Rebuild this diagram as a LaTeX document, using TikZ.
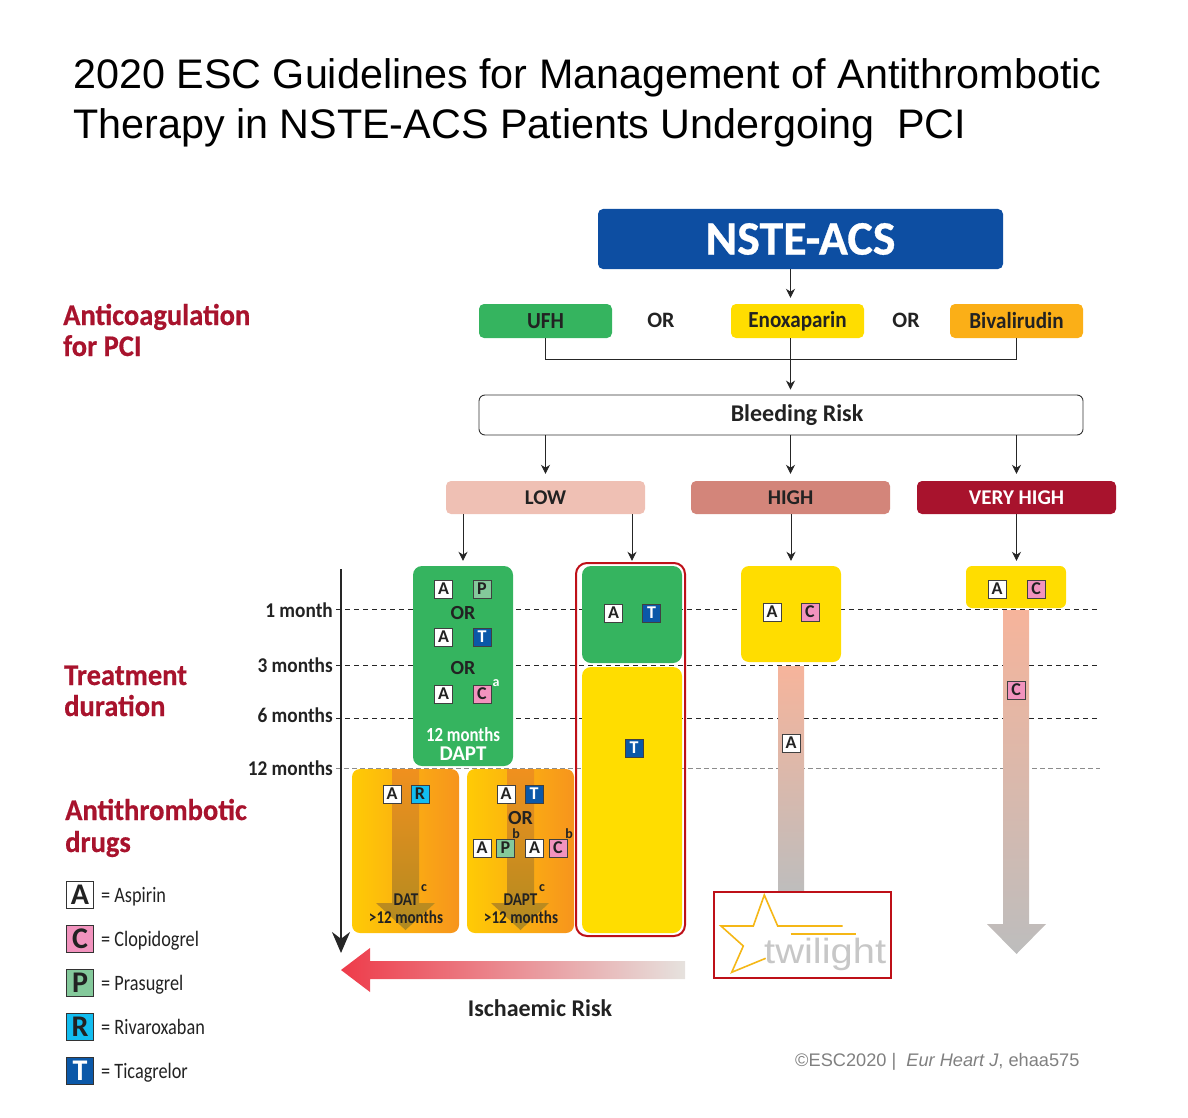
\documentclass[tikz,border=0pt]{standalone}
\usepackage{fontspec}
\setmainfont{Carlito}
\newfontfamily\arialf{Liberation Sans}
\newfontfamily\twf[FakeStretch=1.14]{Liberation Sans}
\newfontfamily\narA[FakeStretch=0.83]{Carlito}
\newfontfamily\narB[FakeStretch=0.92]{Carlito}
\newfontfamily\narC[FakeStretch=0.84]{Carlito}
\newfontfamily\headf[FakeStretch=0.95,FakeBold=0.5]{Carlito}
\newfontfamily\heavyf[FakeStretch=1.0,FakeBold=0.6]{Carlito}
\usetikzlibrary{arrows.meta}
\definecolor{escred}{HTML}{A8132D}
\definecolor{escframe}{HTML}{BE1018}
\definecolor{escblue}{HTML}{0D4EA2}
\definecolor{escgreen}{HTML}{35B45F}
\definecolor{escyellow}{HTML}{FFDD00}
\definecolor{escorange}{HTML}{FBAF17}
\definecolor{txt}{HTML}{222222}
\definecolor{drugp}{HTML}{84C99B}
\definecolor{drugc}{HTML}{F293BE}
\definecolor{drugr}{HTML}{12BDF0}
\definecolor{drugt}{HTML}{0B58A8}
\definecolor{HTMLlow}{HTML}{EFC0B4}
\definecolor{HTMLhigh}{HTML}{D3857A}
\definecolor{HTMLbar}{HTML}{F6B49B}
\definecolor{HTMLgrey}{HTML}{BDBDBD}
\definecolor{HTMLbrown}{HTML}{B08A20}
\definecolor{HTMLtop}{HTML}{F0901E}
\definecolor{HTMLredarrow}{HTML}{EE3B4A}
\definecolor{HTMLgreyl}{HTML}{E6E2DE}
\definecolor{HTMLstar}{HTML}{F5B716}
\definecolor{orL}{HTML}{FFCB05}
\definecolor{orR}{HTML}{F7941D}
\newcommand{\fs}[1]{\fontsize{#1}{#1}\selectfont}
\newcommand{\drug}[5]{\node[badge,#4] (#1) at (#2,#3) {#5};}
\newcommand{\legend}[5]{\node[bigbadge,#3] (#1) at (80,#2) {#4};
  \node[legtxt] (#1t) at (101,#2+7) {= #5};}
\tikzset{
  badge/.style={draw=black!75,line width=1pt,minimum size=18pt,inner sep=0pt,font=\bfseries\fs{18},text=txt},
  bigbadge/.style={draw=black!80,line width=1.1pt,minimum size=27pt,inner sep=0pt,font=\bfseries\fs{30},text=txt},
  da/.style={fill=white},
  dp/.style={fill=drugp},
  dc/.style={fill=drugc},
  dr/.style={fill=drugr},
  dt/.style={fill=drugt,text=white},
  legtxt/.style={anchor=base west,inner sep=0pt,font=\narA\fs{22},text=txt},
  head/.style={anchor=base west,inner sep=0pt,font=\headf\bfseries\fs{30},text=escred},
  month/.style={anchor=base east,inner sep=0pt,font=\narB\bfseries\fs{21},text=txt},
  lab/.style={inner sep=0pt,font=\bfseries\fs{22},text=txt},
  small/.style={inner sep=0pt,font=\bfseries\fs{20},text=txt},
  smallb/.style={inner sep=0pt,font=\narC\bfseries\fs{18},text=txt},
  tiny/.style={inner sep=0pt,font=\bfseries\fs{14},text=txt},
  ttl/.style={anchor=base west,inner sep=0pt,font=\arialf\fs{41.3},text=black},
  rbox/.style={rounded corners=5pt,inner sep=0pt,draw=none},
  arr/.style={-{Stealth[length=9pt,width=9pt]},line width=0.9pt,draw=black!85},
  conn/.style={line width=0.9pt,draw=black!85},
  dash1/.style={line width=0.8pt,draw=black!85,dash pattern=on 5pt off 4pt},
  dash2/.style={line width=1pt,draw=black!45,dash pattern=on 5pt off 3pt},
  orbox/.style={rbox,minimum width=107pt,minimum height=164pt,left color=orL,right color=orR},
  topbox/.style={rbox,minimum width=133pt,minimum height=34pt,font=\narB\bfseries\fs{23},text=txt},
}
\begin{document}
\begin{tikzpicture}[x=1pt,y=-1pt]
\useasboundingbox (0,0) rectangle (1188,1118);
% title
\node[ttl] (title1) at (73,88.5) {2020 ESC Guidelines for Management of Antithrombotic};
\node[ttl] (title2) at (73,138.5) {Therapy in NSTE-ACS Patients Undergoing\ \ PCI};
% left headings
\node[head] (h1a) at (63,325) {Anticoagulation};
\node[head] (h1b) at (63,356) {for PCI};
\node[head] (h2a) at (64,685) {Treatment};
\node[head] (h2b) at (64,716) {duration};
\node[head] (h3a) at (65,820) {Antithrombotic};
\node[head] (h3b) at (65,852) {drugs};
% top boxes
\node[rbox,fill=escblue,minimum width=405pt,minimum height=60pt,text=white,font=\heavyf\bfseries\fs{48}] (nste) at (800.5,239) {NSTE-ACS};
\node[topbox,fill=escgreen] (ufh) at (545.5,321) {UFH};
\node[topbox,fill=escyellow] (enox) at (797.5,321) {Enoxaparin};
\node[topbox,fill=escorange] (biva) at (1016.5,321) {Bivalirudin};
\node[lab] (or1) at (661,320) {OR};
\node[lab] (or2) at (906,320) {OR};
\node[rbox,rounded corners=6pt,draw=black!80,line width=0.9pt,fill=white,minimum width=604pt,minimum height=40pt,font=\bfseries\fs{24},text=txt] (bleed) at (781,415) {\hspace*{32pt}Bleeding Risk};
\node[rbox,fill=HTMLlow,minimum width=199pt,minimum height=33pt,font=\bfseries\fs{21},text=txt] (low) at (545.5,497.5) {LOW};
\node[rbox,fill=HTMLhigh,minimum width=199pt,minimum height=33pt,font=\bfseries\fs{21},text=txt] (high) at (790.5,497.5) {HIGH};
\node[rbox,fill=escred,minimum width=199pt,minimum height=33pt,font=\bfseries\fs{21},text=white] (vhigh) at (1016.5,497.5) {VERY HIGH};
% months
\node[month] (m1) at (333,617) {1 month};
\node[month] (m3) at (333,672) {3 months};
\node[month] (m6) at (333,722) {6 months};
\node[month] (m12) at (333,775) {12 months};
\coordinate (d1a) at (336,609); \coordinate (d1b) at (1100,609);
\coordinate (d3a) at (336,665); \coordinate (d3b) at (1100,665);
\coordinate (d6a) at (336,718); \coordinate (d6b) at (1100,718);
\coordinate (d12a) at (336,768); \coordinate (d12b) at (1100,768);
\draw[dash1] (d1a) -- (d1b);
\draw[dash1] (d3a) -- (d3b);
\draw[dash1] (d6a) -- (d6b);
\draw[dash2] (d12a) -- (d12b);
% time axis
\coordinate (tTop) at (341,569); \coordinate (tEnd) at (341,953);
\draw[line width=2pt,draw=black!85,-{Stealth[length=21pt,width=18pt]}] (tTop) -- (tEnd);
% bars
\path[top color=HTMLbar,bottom color=HTMLgrey] (778,666) rectangle (804,895);
\path[top color=HTMLbar,bottom color=HTMLgrey] (1003,610) -- (1029,610) -- (1029,924) -- (1046,924) -- (1016.5,954) -- (987,924) -- (1003,924) -- cycle;
% treatment boxes
\node[rbox,rounded corners=9pt,fill=escgreen,minimum width=100pt,minimum height=200pt] (g1) at (463,666) {};
\node[rbox,rounded corners=9pt,fill=escgreen,minimum width=100pt,minimum height=97pt] (g2) at (632,614.5) {};
\node[rbox,rounded corners=9pt,fill=escyellow,minimum width=100pt,minimum height=266pt] (y1) at (632,800) {};
\node[rbox,rounded corners=8pt,fill=escyellow,minimum width=100pt,minimum height=96pt] (y2) at (791,614) {};
\node[rbox,rounded corners=6pt,fill=escyellow,minimum width=100pt,minimum height=42pt] (y3) at (1016,587) {};
\node[draw=escframe,line width=2pt,rounded corners=11pt,inner sep=0pt,minimum width=109pt,minimum height=373pt] (frame) at (630.5,749.5) {};
\node[orbox,rounded corners=8pt] (o1) at (405.5,851) {};
\node[orbox,rounded corners=8pt] (o2) at (520.5,851) {};
\path[top color=HTMLtop,bottom color=HTMLbrown] (392,769) -- (419,769) -- (419,903) -- (435,903) -- (405.5,930) -- (376,903) -- (392,903) -- cycle;
\path[top color=HTMLtop,bottom color=HTMLbrown] (507,769) -- (534,769) -- (534,903) -- (549,903) -- (520.5,930) -- (491,903) -- (507,903) -- cycle;
% connectors
\draw[arr,shorten >=6pt] (high.center |- nste.south) -- (high.center |- enox.north);
\draw[conn] (ufh.south) -- ++(0,21) coordinate (cl) -- (cl -| biva.south) -- (biva.south);
\draw[arr,shorten >=5pt] (high.center |- enox.south) -- (high.center |- bleed.north);
\draw[arr,shorten >=7pt] (low.center |- bleed.south) -- (low.north);
\draw[arr,shorten >=7pt] (high.center |- bleed.south) -- (high.north);
\draw[arr,shorten >=7pt] (vhigh.center |- bleed.south) -- (vhigh.north);
\draw[arr,shorten >=5pt] (g1.center |- low.south) -- (g1.north);
\draw[arr,shorten >=5pt] (g2.center |- low.south) -- (g2.north);
\draw[arr,shorten >=5pt] (y2.center |- high.south) -- (y2.north);
\draw[arr,shorten >=5pt] (vhigh.south) -- (vhigh.south |- y3.north);
% red horizontal arrow
\path[left color=HTMLredarrow,right color=HTMLgreyl] (685,961) -- (685,979) -- (370,979) -- (370,992) -- (341,970) -- (370,948) -- (370,961) -- cycle;
\node[inner sep=0pt,font=\bfseries\fs{24},text=txt] (isch) at (540,1008) {Ischaemic Risk};
% drugs in green box
\drug{ga1}{443.5}{589}{da}{A}
\drug{gp1}{482}{589}{dp}{P}
\node[small] (gor1) at (463,613) {OR};
\drug{ga2}{443.5}{637}{da}{A}
\drug{gt2}{482}{637}{dt}{T}
\node[small] (gor2) at (463,668) {OR};
\drug{ga3}{443.5}{694}{da}{A}
\drug{gc3}{482}{694}{dc}{C}
\node[tiny,text=white] (gsup) at (496,683) {a};
\node[inner sep=0pt,font=\narC\bfseries\fs{20},text=white] (g12) at (463,735) {12 months};
\node[inner sep=0pt,font=\bfseries\fs{21},text=white] (gdapt) at (463,754) {DAPT};
% green/yellow column
\drug{g2a}{613.5}{613}{da}{A}
\drug{g2t}{651.5}{613}{dt}{T}
\drug{y1t}{634}{748}{dt}{T}
% high / very high
\drug{y2a}{772}{612}{da}{A}
\drug{y2c}{810}{612}{dc}{C}
\drug{bara}{791}{743}{da}{A}
\drug{y3a}{997}{589}{da}{A}
\drug{y3c}{1036}{589}{dc}{C}
\drug{barc}{1016}{690}{dc}{C}
% orange 1
\drug{o1a}{392}{794}{da}{A}
\drug{o1r}{420}{794}{dr}{R}
\node[smallb] (o1d) at (406,900) {DAT};
\node[tiny] (o1s) at (424,888) {c};
\node[smallb] (o1m) at (406,917) {>12 months};
% orange 2
\drug{o2a}{506}{794}{da}{A}
\drug{o2t}{534}{794}{dt}{T}
\node[small] (o2or) at (520.5,818) {OR};
\drug{o2a2}{482}{848}{da}{A}
\drug{o2p}{505.5}{848}{dp}{P}
\node[tiny] (o2b1) at (516,834) {b};
\drug{o2a3}{534.5}{848}{da}{A}
\drug{o2c}{558}{848}{dc}{C}
\node[tiny] (o2b2) at (569,834) {b};
\node[smallb] (o2d) at (520.5,900) {DAPT};
\node[tiny] (o2s) at (542,888) {c};
\node[smallb] (o2m) at (521,917) {>12 months};
% twilight
\node[draw=escframe,line width=1.4pt,fill=white,inner sep=0pt,minimum width=177pt,minimum height=86pt] (tw) at (802.5,935) {};
\node[anchor=base west,inner sep=0pt,font=\twf\fs{35},text=black!22] (twt) at (764,963) {twilight};
\draw[line width=1.6pt,draw=HTMLstar,line join=miter] (842.7,926) -- (777.7,926) -- (764.3,895) -- (753.3,926) -- (721,926) -- (743.3,946) -- (731.7,972.3) -- (765.7,958.3);
\draw[line width=1.6pt,draw=HTMLstar] (790.7,933.7) -- (856,933.7);
% legend
\legend{lA}{895}{da}{A}{Aspirin}
\legend{lC}{939}{dc}{C}{Clopidogrel}
\legend{lP}{983}{dp}{P}{Prasugrel}
\legend{lR}{1027}{dr}{R}{Rivaroxaban}
\legend{lT}{1071}{dt}{T}{Ticagrelor}
% copyright
\node[anchor=base west,inner sep=0pt,font=\arialf\fs{18.2},text=black!50] (copy) at (795,1066) {©ESC2020 |\ \ \textit{Eur Heart J}, ehaa575};
\end{tikzpicture}
\end{document}
